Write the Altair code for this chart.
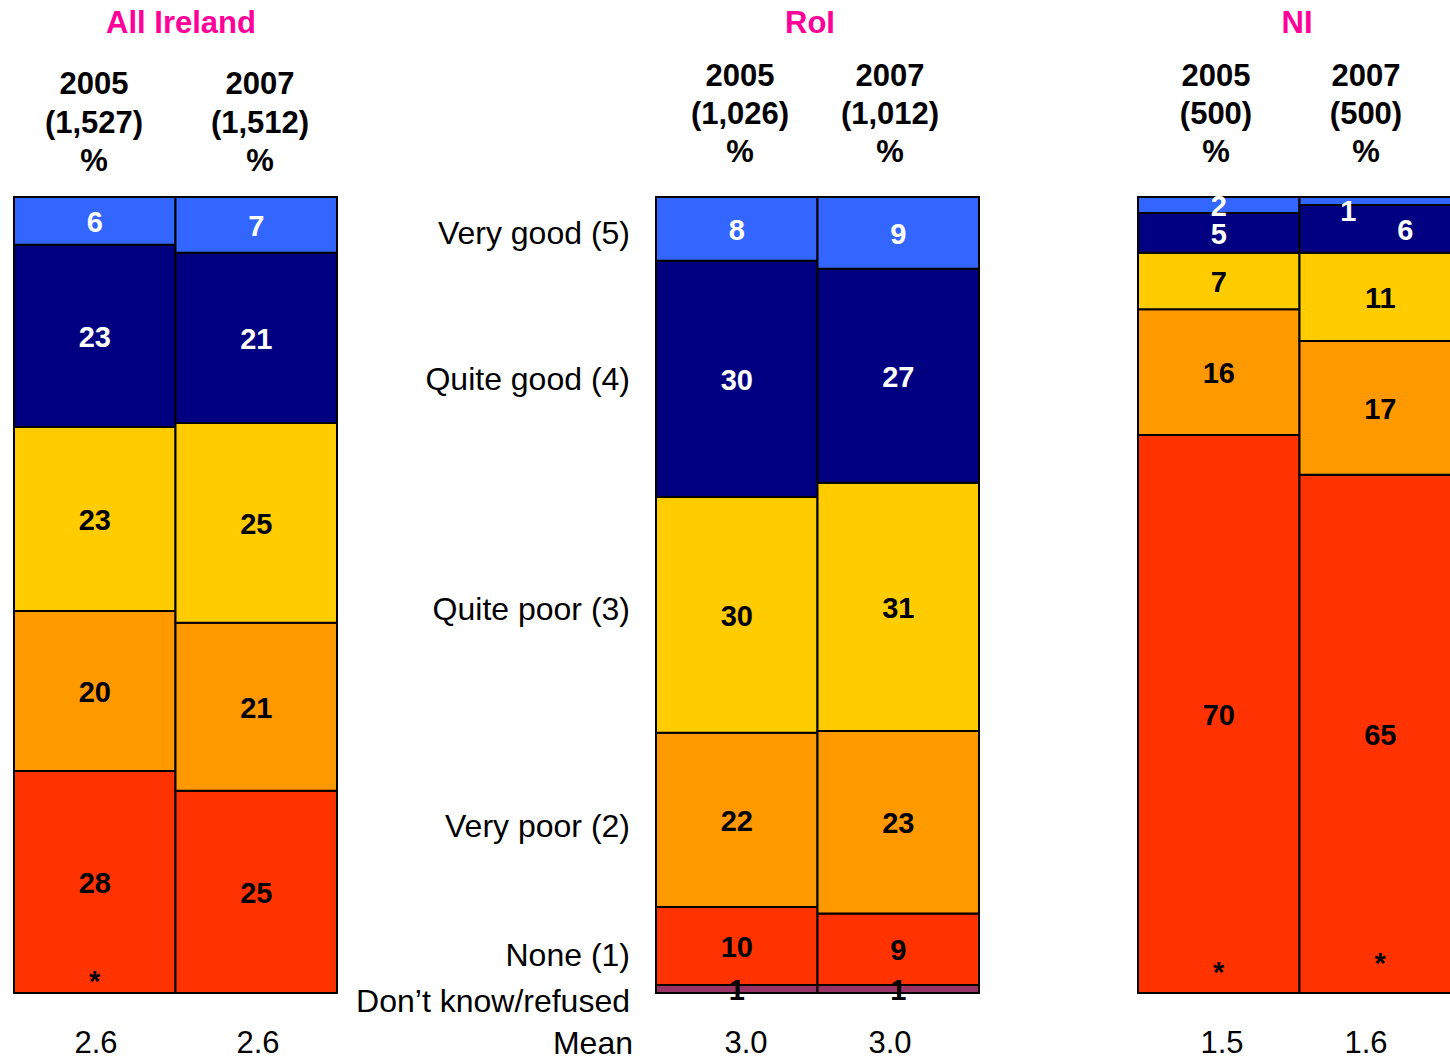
import altair as alt
import pandas as pd

# ---------------- data ----------------
categories = ["Very good (5)", "Quite good (4)", "Quite poor (3)",
              "Very poor (2)", "None (1)", "Don\u2019t know/refused"]
colors = ["#3366FF", "#000080", "#FFCC00", "#FF9900", "#FF3300", "#993366"]
label_colors = ["white", "white", "black", "black", "black", "black"]

groups = ["All Ireland", "RoI", "NI"]
years = ["2005", "2007"]
bases = [["(1,527)", "(1,512)"], ["(1,026)", "(1,012)"], ["(500)", "(500)"]]

# segment sizes (top to bottom, same order as categories)
ai_2005 = [6.0, 22.9, 23.1, 20.1, 27.9, 0.0]
ai_2007 = [7.0, 21.4, 25.1, 21.1, 25.4, 0.0]
roi_2005 = [8.0, 29.7, 29.6, 21.9, 9.8, 1.0]
roi_2007 = [9.0, 26.9, 31.2, 22.9, 9.0, 1.0]
ni_2005 = [2.0, 5.0, 7.1, 15.8, 70.1, 0.0]
ni_2007 = [1.0, 6.0, 11.1, 16.8, 65.1, 0.0]

ai_2005_lbl = ["6", "23", "23", "20", "28", "*"]
ai_2007_lbl = ["7", "21", "25", "21", "25", ""]
roi_2005_lbl = ["8", "30", "30", "22", "10", "1"]
roi_2007_lbl = ["9", "27", "31", "23", "9", "1"]
ni_2005_lbl = ["2", "5", "7", "16", "70", "*"]
ni_2007_lbl = ["1", "6", "11", "17", "65", "*"]

means = [["2.6", "2.6"], ["3.0", "3.0"], ["1.5", "1.6"]]

series = [[ai_2005, ai_2007], [roi_2005, roi_2007], [ni_2005, ni_2007]]
series_lbl = [[ai_2005_lbl, ai_2007_lbl], [roi_2005_lbl, roi_2007_lbl],
              [ni_2005_lbl, ni_2007_lbl]]

# ---------------- layout ----------------
W, H = 1450, 1058
BASE_PX, PX_PER_PCT = 993, 7.96          # 0 % line and scale of the bars
group_start = [14, 656, 1138]
bar_w = 161.5
header_x = [[94, 260], [740, 890], [1216, 1366]]
mean_x = [[96, 258], [746, 890], [1222, 1366]]
title_x = [181, 810, 1297]
header_y = [[83, 122, 160], [75, 113, 151], [75, 113, 151]]
cat_label_y = [232, 378, 608, 825, 954, 1000]
TEXT_DY = 2
# small label nudges (px) for crowded / asterisk labels
nudge = {("NI", "2007", 0): (-32, 9), ("NI", "2007", 1): (25, 0),
         ("All Ireland", "2005", 5): (0, -13), ("NI", "2005", 5): (0, -22),
         ("NI", "2007", 5): (0, -31)}


def pct(py):
    return (BASE_PX - py) / PX_PER_PCT


rects, labels = [], []
for gi, g in enumerate(groups):
    for yi, yr in enumerate(years):
        vals = series[gi][yi]
        lbls = series_lbl[gi][yi]
        x0 = group_start[gi] + yi * bar_w
        x1 = x0 + bar_w
        bottom = 0.0
        tops = []
        for ci in reversed(range(len(categories))):
            tops.append((ci, bottom, bottom + vals[ci]))
            bottom += vals[ci]
        for ci, lo, hi in tops:
            if vals[ci] > 0:
                rects.append(dict(cat=categories[ci], x=x0, x2=x1, y=lo, y2=hi))
            if lbls[ci]:
                dx, dy = nudge.get((g, yr, ci), (0, 0))
                labels.append(dict(text=lbls[ci], x=(x0 + x1) / 2 + dx,
                                   y=(lo + hi) / 2 - dy / PX_PER_PCT,
                                   col=label_colors[ci]))

rect_df = pd.DataFrame(rects)
lab_df = pd.DataFrame(labels)

head_rows, title_rows, mean_rows = [], [], []
for gi, g in enumerate(groups):
    title_rows.append(dict(text=g, x=title_x[gi], y=pct(22)))
    for yi, yr in enumerate(years):
        for li, t in enumerate([yr, bases[gi][yi], "%"]):
            head_rows.append(dict(text=t, x=header_x[gi][yi], y=pct(header_y[gi][li])))
        mean_rows.append(dict(text=means[gi][yi], x=mean_x[gi][yi], y=pct(1042)))
cat_rows = [dict(text=c, x=630, y=pct(cat_label_y[i])) for i, c in enumerate(categories)]
cat_rows.append(dict(text="Mean", x=633, y=pct(1042)))

xs = alt.Scale(domain=[0, W], nice=False, zero=False)
ys = alt.Scale(domain=[pct(H), pct(0)], nice=False, zero=False)
X = lambda f="x": alt.X(f"{f}:Q", scale=xs, axis=None)
Y = lambda f="y": alt.Y(f"{f}:Q", scale=ys, axis=None)
FONT = "Liberation Sans"

bars = alt.Chart(rect_df).mark_rect(stroke="black", strokeWidth=2, clip=True).encode(
    x=X(), x2="x2:Q", y=Y(), y2="y2:Q",
    color=alt.Color("cat:N", scale=alt.Scale(domain=categories, range=colors), legend=None),
)

bar_text = alt.Chart(lab_df).mark_text(
    font=FONT, fontSize=29, fontWeight="bold", baseline="middle", align="center", dy=TEXT_DY
).encode(x=X(), y=Y(), text="text:N", color=alt.Color("col:N", scale=None))

titles = alt.Chart(pd.DataFrame(title_rows)).mark_text(
    font=FONT, fontSize=31, fontWeight="bold", color="#FF0099", baseline="middle", dy=TEXT_DY
).encode(x=X(), y=Y(), text="text:N")

heads = alt.Chart(pd.DataFrame(head_rows)).mark_text(
    font=FONT, fontSize=31, fontWeight="bold", color="black", baseline="middle", dy=TEXT_DY
).encode(x=X(), y=Y(), text="text:N")

cats = alt.Chart(pd.DataFrame(cat_rows)).mark_text(
    font=FONT, fontSize=32, color="black", baseline="middle", align="right", dy=TEXT_DY
).encode(x=X(), y=Y(), text="text:N")

mean_text = alt.Chart(pd.DataFrame(mean_rows)).mark_text(
    font=FONT, fontSize=31, color="black", baseline="middle", dy=TEXT_DY
).encode(x=X(), y=Y(), text="text:N")

chart = alt.layer(bars, bar_text, titles, heads, cats, mean_text).properties(
    width=W, height=H, autosize=alt.AutoSizeParams(type="none"), padding=0,
    background="white"
).configure_view(stroke=None)

chart.save("out.html", embed_options={"renderer": "svg", "actions": False})
